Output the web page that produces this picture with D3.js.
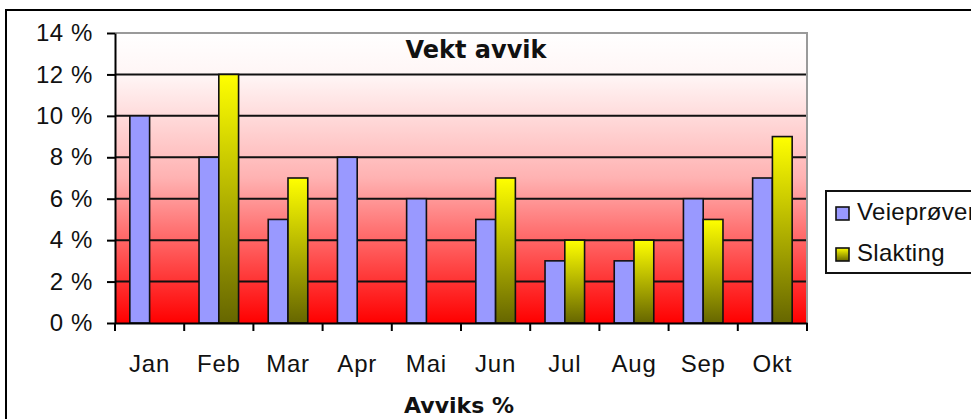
<!DOCTYPE html>
<html>
<head>
<meta charset="utf-8">
<script src="https://cdn.jsdelivr.net/npm/d3@7"></script>
<style>
  html, body { margin: 0; padding: 0; background: #fff; }
  svg { display: block; }
</style>
</head>
<body>
<svg id="chart" width="971" height="419"></svg>
<script>
const months = ["Jan", "Feb", "Mar", "Apr", "Mai", "Jun", "Jul", "Aug", "Sep", "Okt"];
const seriesNames = ["Veieprøver", "Slakting"];
const veieprover = [10, 8, 5, 8, 6, 5, 3, 3, 6, 7];
const slakting = [null, 12, 7, null, null, 7, 4, 4, 5, 9];
const yTicks = [0, 2, 4, 6, 8, 10, 12, 14];
const chartTitle = "Vekt avvik";
const xAxisTitle = "Avviks %";

const svg = d3.select("#chart");
const plot = { left: 115, top: 33, right: 807, bottom: 323 };
const labelFont = "Liberation Sans, Arial, sans-serif";
const boldFont = "DejaVu Sans, Verdana, sans-serif";

const defs = svg.append("defs");
const bgGrad = defs.append("linearGradient").attr("id", "bgGrad")
  .attr("x1", 0).attr("y1", 0).attr("x2", 0).attr("y2", 1);
[["0%", "#ffffff"], ["15%", "#fff5f5"], ["50%", "#ffb2b2"], ["100%", "#ff0000"]]
  .forEach(([o, c]) => bgGrad.append("stop").attr("offset", o).attr("stop-color", c));

const yelGrad = defs.append("linearGradient").attr("id", "yelGrad")
  .attr("x1", 0).attr("y1", 0).attr("x2", 0).attr("y2", 1);
yelGrad.append("stop").attr("offset", "0%").attr("stop-color", "#ffff00");
yelGrad.append("stop").attr("offset", "100%").attr("stop-color", "#666600");

// outer chart border
svg.append("rect").attr("x", 6).attr("y", 10).attr("width", 1000).attr("height", 500)
  .attr("fill", "#fff").attr("stroke", "#000").attr("stroke-width", 2);

const x0 = d3.scaleBand().domain(months).range([plot.left, plot.right]).paddingInner(0).paddingOuter(0);
const x1 = d3.scaleBand().domain(seriesNames).range([0, x0.bandwidth()]).paddingInner(0).paddingOuter(0.75);
const y = d3.scaleLinear().domain([0, 14]).range([plot.bottom, plot.top]);

// plot background
svg.append("rect").attr("x", plot.left).attr("y", plot.top)
  .attr("width", plot.right - plot.left).attr("height", plot.bottom - plot.top)
  .attr("fill", "url(#bgGrad)");

// gridlines
svg.append("g").selectAll("line").data(yTicks.filter(d => d > 0 && d < 14)).join("line")
  .attr("x1", plot.left).attr("x2", plot.right)
  .attr("y1", d => y(d)).attr("y2", d => y(d))
  .attr("stroke", "#111").attr("stroke-width", 2);

// plot border (gray top/right)
svg.append("path")
  .attr("d", `M${plot.left},${plot.top}H${plot.right}V${plot.bottom}`)
  .attr("fill", "none").attr("stroke", "#9a9a9a").attr("stroke-width", 2);

// bars
const data = months.map((m, i) => ({ month: m, values: [
  { key: "Veieprøver", v: veieprover[i] },
  { key: "Slakting", v: slakting[i] }
]}));
const groups = svg.append("g").selectAll("g").data(data).join("g")
  .attr("transform", d => `translate(${x0(d.month)},0)`);
groups.selectAll("rect").data(d => d.values.filter(e => e.v != null)).join("rect")
  .attr("x", d => x1(d.key))
  .attr("width", x1.bandwidth())
  .attr("y", d => y(d.v))
  .attr("height", d => y(0) - y(d.v))
  .attr("fill", d => d.key === "Veieprøver" ? "#9999ff" : "url(#yelGrad)")
  .attr("stroke", "#111").attr("stroke-width", 1.6);

// y axis
const yAxis = d3.axisLeft(y).tickValues(yTicks).tickSize(8).tickSizeOuter(0)
  .tickFormat(d => d + " %");
const gy = svg.append("g").attr("transform", `translate(${plot.left},0)`).call(yAxis);
gy.select(".domain").attr("stroke", "#000").attr("stroke-width", 2);
gy.selectAll(".tick line").attr("stroke", "#000").attr("stroke-width", 2);
gy.selectAll(".tick text").attr("x", -22)
  .attr("font-family", labelFont).attr("font-size", 24).attr("letter-spacing", 0.6)
  .attr("fill", "#111");

// x axis
const xAxis = d3.axisBottom(x0).tickSize(0);
const gx = svg.append("g").attr("transform", `translate(0,${plot.bottom})`).call(xAxis);
gx.select(".domain").attr("stroke", "#000").attr("stroke-width", 2);
gx.selectAll(".tick text").attr("y", 0).attr("dy", 49)
  .attr("font-family", labelFont).attr("font-size", 24).attr("letter-spacing", 0.8)
  .attr("fill", "#111");
// category boundary ticks
const bounds = months.map(m => x0(m)).concat([plot.right]);
gx.append("g").selectAll("line").data(bounds).join("line")
  .attr("x1", d => d).attr("x2", d => d).attr("y1", 0).attr("y2", 8)
  .attr("stroke", "#000").attr("stroke-width", 2);

// title
svg.append("text").attr("x", 476).attr("y", 58).attr("text-anchor", "middle")
  .attr("font-family", boldFont).attr("font-weight", "bold")
  .attr("font-size", 24).attr("fill", "#111").text(chartTitle);

// x axis title
svg.append("text").attr("x", 459).attr("y", 413).attr("text-anchor", "middle")
  .attr("font-family", boldFont).attr("font-weight", "bold")
  .attr("font-size", 22).attr("fill", "#111").text(xAxisTitle);

// legend
const lg = svg.append("g");
lg.append("rect").attr("x", 826).attr("y", 191).attr("width", 200).attr("height", 82)
  .attr("fill", "#fff").attr("stroke", "#111").attr("stroke-width", 2);
const legendItems = lg.selectAll("g").data(seriesNames).join("g")
  .attr("transform", (d, i) => `translate(836,${207 + i * 41})`);
legendItems.append("rect").attr("x", 0).attr("y", 0).attr("width", 13).attr("height", 13)
  .attr("fill", d => d === "Veieprøver" ? "#9999ff" : "url(#yelGrad)")
  .attr("stroke", "#111").attr("stroke-width", 1.6);
legendItems.append("text").attr("x", 21).attr("y", 13)
  .attr("font-family", labelFont).attr("font-size", 24).attr("letter-spacing", 0.3)
  .attr("fill", "#111").text(d => d);
</script>
</body>
</html>
